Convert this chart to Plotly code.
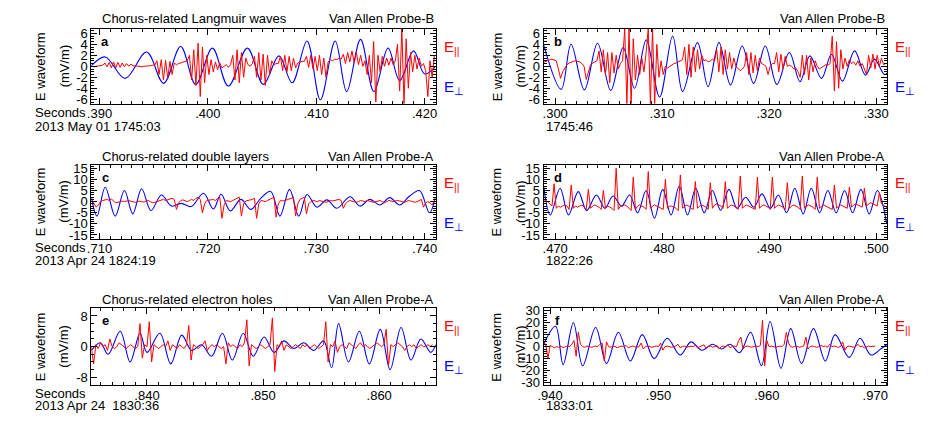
import plotly.graph_objects as go

# ---------------- DATA ----------------
PAR_DT = 0.0002  # E_par sample step (s)

# Panel a : chorus-related Langmuir waves (Probe-B, 2013-05-01 17:45:03)
a_perp_t = [.38925, .39053, .39236, .39435, .39592, .39749, .39888, .40042, .40189, .40365,
            .40512, .40656, .40778, .40915, .41038, .41175, .41281, .41409, .41532, .41663,
            .41770, .41898, .42000, .42103]
a_perp_v = [0.1, 1.7, -2.2, 2.6, -3.1, 3.6, -3.3, 3.3, -3.6, 3.3,
            -3.3, 1.9, -3.0, 4.6, -6.1, 4.6, -4.6, 4.9, -4.6, 3.3,
            -2.6, 2.8, -1.4, 0.0]
a_par_t0 = 0.3893
a_par_v = [0.0, -0.1, 0.0, 0.1, 0.1, 0.2,
           0.6, -0.1, 0.7, -0.3, 0.8, -0.3, 0.7, -0.2, 0.6, -0.1, 0.5, 0.0, 0.4, 0.1,
           0.1, 0.0, 0.0, -0.1, 0.0, 0.0, 0.1, 0.1, 0.2, 0.2,
           1.0, -1.5, 1.2, -2.5, 1.1, -2.2, 0.9, -1.5, 0.6,
           0.3, 0.5, 0.6, 0.8, 0.9, 1.0,
           2.0, -2.5, 3.0, -3.5, 4.2, -5.5, 3.5, -3.0, 2.0,
           -1.5, 1.2, -1.0, 0.8, -0.6, 0.6, -0.3,
           0.0, 0.3, -0.2, 0.3,
           2.0, -2.5, 3.0, -3.0, 2.5, -2.0, 1.5,
           0.3, 0.0, 0.5,
           1.8, -2.0, 2.5, -2.5, 2.2, -3.5, 2.0, -1.5, 1.0,
           0.3, 0.5, 0.5,
           1.8, -0.8, 2.0, -1.0, 1.8, -0.8, 1.5, -0.3,
           0.6, 0.8, 0.9, 0.9,
           1.8, -0.2, 2.0, -0.5, 1.8, -0.8, 2.0, -1.5, 1.5, -2.0,
           0.8, 1.2, 1.0, 1.3, 1.2, 1.5, 1.3,
           2.2, 0.5, 2.5, 0.8, 2.8, 0.6, 2.5, 0.3, 2.0, 0.0,
           1.0, -1.5, 2.0, -3.0, 4.5, -6.5, 2.0, -1.0,
           1.8, 0.0, 1.5, 0.2, 1.5, 0.3, 1.0,
           4.0, -4.5, 6.8, -6.8, 5.0, -4.0,
           2.5, -1.0, 2.0, -0.5, 1.5, 0.0, 0.5,
           -0.8, -5.5, 1.0, -2.0, 2.0]

# Panel b : Probe-B, 17:45:46
b_perp_t = [.29892, .30056, .30148, .30273, .30396, .30519, .30635, .30742, .30851, .30976,
            .31098, .31191, .31330, .31429, .31531, .31639, .31748, .31855, .31964, .32072,
            .32189, .32288, .32381, .32490, .32583, .32685, .32799, .32901, .32984, .33077,
            .33105]
b_perp_v = [3.9, -4.2, 4.0, -4.3, 4.2, -4.4, 3.4, -4.0, 4.8, -5.6,
            5.5, -4.6, 4.3, -3.7, 4.3, -3.4, 3.7, -3.1, 3.7, -3.3,
            2.5, -2.8, 1.9, -2.2, 2.2, -2.7, 2.8, -1.6, 1.3, -1.5,
            -1.2]
b_par_t0 = 0.2989
b_par_v = [0.7, 0.9, 1.1, 1.2, 1.3, 1.2, 1.0,
           -0.5, -2.2, -1.0,
           -0.2, 0.3, 0.6, 0.8, 0.9, 1.0, 0.9, 0.8, 0.5, 0.0,
           -2.4, -1.0,
           0.2, 0.6, 0.8, 1.0,
           2.8, -1.0, 3.0, -1.5, 2.5, -3.0, 2.5, -1.2, 2.0, -0.5,
           0.5, 1.0,
           6.8, -6.8, 6.8, -6.8, 5.0,
           -2.5, 2.0, -1.5, 1.5, -1.0, 2.5,
           6.8, -6.8, 6.8, -6.8, 4.0,
           -2.0, 1.0, -1.5, 0.0, -0.3, 0.0,
           0.2, 0.5, 0.6, 0.8, 1.0, 1.2,
           3.5, -1.5, 4.0, -2.0, 3.5, -1.0, 3.0, -0.5, 2.0,
           1.0, 1.2, 0.8, 1.0, 1.3, 1.0,
           3.0, -1.0, 3.5, -1.5, 3.0, -0.5, 2.5, -0.5, 1.5,
           0.0, -0.5, -0.8, -0.5, 0.0,
           2.5, -1.5, 2.5, -1.2, 2.0, -0.8, 1.5,
           0.5, 0.3, 0.0, -1.5, 0.0, 0.5, 0.5,
           2.5, -1.0, 2.2, -0.5, 1.8, 0.0,
           0.2, 0.0, -0.5, -0.3, -1.0, -2.0,
           2.0, -1.5, 2.0, -2.5, 1.5, -1.0, 1.0, 0.0,
           -0.5, -0.2, 0.0, 0.3, 0.2, 0.5,
           5.5, -4.5, 4.5, -4.0, 3.0,
           -0.5, 1.5, 0.0, 1.2, 0.5,
           0.8, 0.2, 1.0, 0.0, 0.5, -0.5, -1.5,
           2.0, -0.3, 2.2, -0.5, 2.0, 0.0, 1.5, 0.3, 0.5]

# Panel c : chorus-related double layers (Probe-A, 2013-04-24 18:24:19)
c_perp_t = [.70925, .70977, .71053, .71145, .71230, .71307, .71389, .71475, .71572, .71664,
            .71755, .71847, .71960, .72051, .72122, .72207, .72305, .72397, .72488, .72580,
            .72665, .72754, .72839, .72915, .73006, .73098, .73190, .73312, .73404, .73495,
            .73587, .73679, .73770, .73862, .73953, .74045, .74100]
c_perp_v = [2.0, -6.5, 6.5, -6.5, 5.0, -5.5, 5.8, -4.0, 3.0, -2.0,
            -0.8, -2.2, 3.8, -3.3, 3.3, -4.2, 1.0, -3.5, 1.5, 4.6,
            -6.5, 5.5, -6.5, 3.2, -2.5, 0.8, -3.0, 2.2, -2.0, 1.0,
            -1.5, 1.8, -1.5, 2.5, 5.0, -5.0, 2.0]
c_par_t0 = 0.7093
c_par_v = [0.5, -1.0, -2.5, -1.5, 0.0, 0.5, 0.8, 1.0, 0.5, 1.2,
           0.3, -0.5, -0.3, 0.0, 0.2, 0.0, 0.3, 0.5, 0.2, 0.0,
           -0.3, 0.0, 0.2, 0.0, -0.2, 0.3, 0.5, 0.0, -0.5, -0.3,
           0.0, 0.5, 0.8, 1.0, 0.5, 0.8, 1.2, 1.5, 1.0, -3.5,
           -0.5, 0.5, 0.8, 0.3, 0.0, 0.5, 1.0, 0.5, 1.5, 2.0,
           1.0, -5.0, -1.0, 0.5, 0.5, 0.8, 1.0, 0.5, 1.5, 2.0,
           -7.5, -1.5, 0.5, 0.3, 0.0, 0.5, 1.0, 1.5, 2.0, -6.5,
           -1.0, 0.3, 0.5, 0.8, 1.0, 1.5, -7.5, -1.0, 0.5, 0.3,
           0.0, 0.5, 1.0, 1.5, 2.0, -7.0, -1.0, 0.5, 0.3, 0.5,
           0.8, 1.0, 1.5, 2.0, -6.5, -1.0, 1.0, 1.5, 2.0, -5.5,
           -1.0, 0.0, 0.5, 0.3, 0.0, 0.5, 0.3, 0.0, -0.3, 0.0,
           0.5, 0.3, 0.5, 0.8, 1.0, 0.5, -3.0, -1.0, 0.0, 0.5,
           0.3, 0.0, -0.3, 0.0, 0.5, 0.3, 0.0, 0.5, 0.3, 0.0,
           -0.3, 0.0, 0.3, 0.5, 0.0, -0.5, 0.0, 0.5, 0.3, 0.0,
           0.3, 0.5, 0.3, 0.0, -0.3, 0.0, 0.5, 0.3, 0.0, -0.3,
           0.0, 0.5, 1.0, -2.5, -0.5, 0.0, -0.5, -1.5, 0.5]

# Panel d : Probe-A, 18:22:26
d_perp_t = [.46892, .46954, .47046, .47124, .47216, .47294, .47385, .47465, .47541, .47620,
            .47696, .47770, .47850, .47928, .48005, .48083, .48160, .48237, .48314, .48393,
            .48469, .48547, .48624, .48700, .48780, .48857, .48933, .49012, .49086, .49163,
            .49240, .49318, .49394, .49472, .49549, .49627, .49705, .49780, .49858, .49935,
            .50012, .50100]
d_perp_v = [7.0, -6.0, 6.0, -6.0, 4.5, -4.0, 3.0, -3.0, 2.5, -2.0,
            3.0, -5.0, 5.0, -7.5, 5.5, -6.0, 7.0, -6.0, 6.0, -5.0,
            5.0, -4.0, 5.5, -3.0, 2.0, -2.5, 3.5, -3.0, 3.0, -5.0,
            6.0, -5.5, 6.0, -5.0, 5.0, -5.0, 5.0, -5.0, 5.5, -5.5,
            5.0, -10.0]
d_par_t0 = 0.4689
d_par_v = [1.0, 0.5, 0.0, -1.0, -2.0, 8.0, -3.0, -2.0, -2.5, -2.0,
           -1.5, -2.0, -3.5, 7.5, -3.0, -2.0, -2.5, -2.0, -1.5, -2.5,
           -3.5, 5.5, -3.0, -2.0, -1.5, -2.0, -2.5, -3.5, 5.0, -3.0,
           -2.0, -2.5, -3.0, -4.0, 15.0, -3.5, -2.0, -2.0, -1.5, -2.0,
           -3.0, -4.0, 11.0, -3.5, -2.0, -1.5, -2.0, -2.5, -3.5, 13.5,
           -3.0, -2.0, -1.5, -2.0, -2.5, -3.0, -3.5, 10.0, -3.0, -2.0,
           -2.0, -2.5, -3.0, -4.0, 12.0, -3.0, -2.0, -1.5, -2.0, -3.0,
           -3.5, 9.0, -3.0, -2.0, -1.5, -2.0, -2.5, -3.5, 8.5, -3.0,
           -1.5, -1.0, -1.5, -2.0, -3.0, 9.0, -3.0, -2.0, -1.5, -2.0,
           -2.5, -3.5, 11.5, -3.0, -2.0, -1.5, -2.0, -2.5, -3.0, -3.5,
           11.0, -3.0, -2.0, -1.5, -2.0, -2.5, -3.5, 11.0, -3.0, -2.0,
           -1.5, -2.0, -2.5, -3.5, 8.5, -3.0, -2.0, -1.5, -2.0, -2.5,
           -3.5, 11.5, -3.0, -2.0, -1.5, -2.0, -2.5, -3.5, 11.0, -3.0,
           -2.0, -1.5, -2.0, -2.5, -3.0, -3.5, 7.5, -3.0, -2.0, -1.5,
           -2.0, -2.5, -3.0, 6.5, -2.5, -1.5, -1.0, -1.5, -2.0, -2.5,
           6.0, -2.0, -1.0, -0.5, -1.0, -1.5, -2.0, 4.0, -1.0, -1.5,
           -2.5, -3.0]

# Panel e : chorus-related electron holes (Probe-A, 2013-04-24 18:30:36)
e_perp_t = [.83521, .83598, .83666, .83769, .83855, .83940, .84000, .84111, .84205, .84299,
            .84385, .84470, .84556, .84650, .84735, .84829, .84915, .85009, .85094, .85179,
            .85265, .85350, .85436, .85521, .85590, .85650, .85735, .85829, .85915, .86009,
            .86094, .86188, .86274, .86359, .86444, .86487]
e_perp_v = [-1.0, 1.0, -2.0, 4.0, -4.0, 3.5, -1.5, 3.5, -4.5, 3.0,
            -1.0, 0.5, -2.5, 3.5, -3.5, 3.5, -2.5, 2.5, -1.5, 1.5,
            -0.5, 1.0, -1.0, 1.5, -5.5, 6.0, -4.0, 4.0, -4.5, 4.5,
            -6.0, 5.0, -3.5, 2.0, -1.5, 0.5]
e_par_t0 = 0.8352
e_par_v = [0.0, -4.5, 0.5, -0.5, 1.0, 0.0, 0.5, -1.0, 2.0, 0.0,
           -0.5, 0.0, 1.0, 0.5, 0.0, -0.5, 0.0, 0.5, 0.0, -0.5,
           0.0, 6.0, -3.0, 0.5, 0.0, 6.5, -4.0, 0.5, 0.0, -0.5,
           0.0, 0.5, 0.0, 1.5, -1.0, 0.5, 0.0, -0.5, 0.5, 0.0,
           -0.5, 0.5, 5.5, -3.5, 0.5, 0.0, -0.5, 0.0, 0.5, 1.5,
           -1.0, 0.0, 0.5, 0.0, 0.5, 0.0, -0.5, 0.0, -4.5, 1.0,
           0.0, 0.5, 0.0, -0.5, 0.5, 0.0, 1.0, 7.0, -5.0, 0.5,
           0.0, -0.5, 0.0, 0.5, 0.0, -0.5, 0.0, 0.5, 7.5, -6.5,
           0.5, 0.0, 1.5, -1.0, 0.5, 0.0, -0.5, 0.0, 0.5, 0.0,
           -0.5, 0.5, 0.0, 0.5, -0.5, 0.0, 0.5, 0.0, -0.5, 0.0,
           0.5, 6.5, -4.0, 0.5, 0.0, 1.5, -1.5, 0.0, 0.5, 0.0,
           -0.5, 1.0, 0.5, 0.0, -0.5, 0.5, 1.0, 0.0, 0.5, 0.0,
           -0.5, 0.0, 0.5, 1.0, 0.5, 0.0, 0.5, 4.5, -5.0, 0.5,
           0.0, 0.5, 1.0, 0.5, 0.0, -1.0, 0.0, 0.5, 0.0, 0.5,
           -0.5, 0.0, 0.5, 0.0, 0.0, 0.5, 0.0, 0.5]

# Panel f : Probe-A, 18:33:01
f_perp_t = [.93940, .94050, .94120, .94215, .94300, .94420, .94520, .94630, .94740, .94850,
            .94960, .95080, .95200, .95300, .95400, .95500, .95580, .95660, .95750, .95850,
            .95950, .96030, .96130, .96220, .96320, .96430, .96540, .96630, .96760, .96860,
            .96960, .97050, .97112]
f_perp_v = [2.0, 17.0, -15.0, 20.0, -16.0, 16.0, -14.0, 12.0, -12.0, 10.0,
            -10.0, 7.0, -7.0, 4.0, -3.0, 2.0, -2.0, 2.0, -5.0, 12.0,
            -16.0, 21.0, -18.0, 15.0, -14.0, 15.0, -12.0, 10.0, -9.0, 7.0,
            -7.0, -2.0, 2.0]
f_par_t0 = 0.9394
f_par_v = [3.0, 2.0, -10.0, 1.0, 0.0, -1.0, 0.0, -0.5, 0.5, -1.0,
           0.0, 0.5, 0.0, 2.0, 5.0, -8.0, 12.0, 2.0, 0.0, -0.5,
           0.5, 0.0, -0.5, 0.0, 0.5, 0.0, 2.0, 3.0, -12.0, 4.0,
           0.0, -0.5, 0.5, 0.0, -1.0, 0.0, 0.5, 0.0, 1.0, -1.0,
           0.0, 0.5, 0.0, -0.5, 0.0, 3.0, -2.0, 0.0, 0.5, 0.0,
           -0.5, 0.0, 0.5, 0.0, 3.0, -3.0, 0.0, 0.5, 0.0, -0.5,
           0.0, 0.5, 2.0, -1.0, 0.0, 0.5, -0.5, 0.0, 0.5, 0.0,
           1.0, -1.0, 0.0, 0.5, 1.5, -1.5, 0.0, 0.5, -0.5, 0.0,
           1.0, -2.0, 0.0, 0.5, 0.0, 1.5, -1.0, 0.0, 0.5, 0.0,
           5.0, 8.0, -2.0, 0.0, 0.5, 0.0, -0.5, 0.0, 0.5, 0.0,
           1.0, 22.0, -16.0, 5.0, 0.0, 0.5, 0.0, -0.5, 0.0, 0.5,
           0.0, 2.0, 12.0, 3.0, 0.0, -0.5, 0.5, 0.0, -0.5, 0.0,
           0.5, 8.0, -2.0, 0.0, 0.5, 0.0, -0.5, 0.0, 1.0, 0.0,
           0.5, -0.5, 2.0, 0.0, 0.5, 0.0, -0.5, 0.0, 4.0, -3.0,
           0.0, 0.5, 0.0, -0.5, 0.0, 2.0, 0.0, 0.5, -1.0, 0.0,
           0.5, 0.0, 0.0, 0.5]

panels = [
    ("a", a_perp_t, a_perp_v, a_par_t0, a_par_v, [.38925, .42103], [.39, .40, .41, .42], [-6.8, 6.8], [-6, -4, -2, 0, 2, 4, 6], 0.5),
    ("b", b_perp_t, b_perp_v, b_par_t0, b_par_v, [.29892, .33105], [.30, .31, .32, .33], [-6.8, 6.8], [-6, -4, -2, 0, 2, 4, 6], 0.5),
    ("c", c_perp_t, c_perp_v, c_par_t0, c_par_v, [.70925, .74103], [.71, .72, .73, .74], [-16.7, 16.7], [-15, -10, -5, 0, 5, 10, 15], 1),
    ("d", d_perp_t, d_perp_v, d_par_t0, d_par_v, [.46892, .50105], [.47, .48, .49, .50], [-16.7, 16.7], [-15, -10, -5, 0, 5, 10, 15], 1),
    ("e", e_perp_t, e_perp_v, e_par_t0, e_par_v, [.83521, .86487], [.84, .85, .86], [-10, 10], [-8, 0, 8], 2),
    ("f", f_perp_t, f_perp_v, f_par_t0, f_par_v, [.93940, .97112], [.94, .95, .96, .97], [-32, 32], [-30, -20, -10, 0, 10, 20, 30], 2),
]

# ---------------- LAYOUT ----------------
W, H = 934, 431
COLS = [(86, 433), (541.7, 888)]
ROWS = [(24.5, 101), (163.3, 239.3), (310.5, 389)]
FONT = "Liberation Sans, Arial, Helvetica, sans-serif"


def px(x):
    return x / W


def py(y):
    return 1 - y / H


fig = go.Figure()
layout = dict(width=W, height=H, margin=dict(l=0, r=0, t=0, b=0),
              paper_bgcolor="white", plot_bgcolor="white", showlegend=False,
              font=dict(family=FONT, size=13, color="black"))

for k, (key, pt, pv, t0, rv, xr, xt, yr, yt, ymin) in enumerate(panels):
    r, c = divmod(k, 2)
    n = "" if k == 0 else str(k + 1)
    xa, ya = "x" + n, "y" + n
    rt = [t0 + PAR_DT * i for i in range(len(rv))]
    fig.add_trace(go.Scatter(x=pt, y=pv, mode="lines", line=dict(color="#0000ff", width=1.1, shape="spline", smoothing=1.0),
                             xaxis=xa, yaxis=ya, hoverinfo="skip"))
    fig.add_trace(go.Scatter(x=rt, y=rv, mode="lines", line=dict(color="#ff0000", width=1.0),
                             xaxis=xa, yaxis=ya, hoverinfo="skip"))
    x0, x1 = COLS[c]
    y0, y1 = ROWS[r]
    layout["xaxis" + n] = dict(domain=[px(x0), px(x1)], anchor=ya, range=xr,
                               tickmode="array", tickvals=xt, ticktext=["." + f"{v:.3f}".split(".")[1] for v in xt],
                               ticks="inside", ticklen=6, tickcolor="black", tickwidth=1,
                               showline=True, linecolor="black", linewidth=1, mirror="ticks",
                               showgrid=False, zeroline=False, ticklabelstandoff=-2,
                               minor=dict(tickmode="linear", tick0=xt[0], dtick=0.001, ticks="inside", ticklen=3, tickcolor="black", showgrid=False),
                               tickfont=dict(family=FONT, size=13))
    layout["yaxis" + n] = dict(domain=[py(y1), py(y0)], anchor=xa, range=yr,
                               tickmode="array", tickvals=yt, ticktext=[str(v) for v in yt],
                               ticks="inside", ticklen=6, tickcolor="black", tickwidth=1,
                               showline=True, linecolor="black", linewidth=1, mirror="ticks",
                               showgrid=False, zeroline=False,
                               minor=dict(tickmode="linear", tick0=0, dtick=ymin, ticks="inside", ticklen=3, tickcolor="black", showgrid=False),
                               tickfont=dict(family=FONT, size=13))

fig.update_layout(**layout)

ann = []


def text(x, y, s, xanchor="left", size=13, color="black", angle=0, bold=False):
    if bold:
        s = "<b>" + s + "</b>"
    ann.append(dict(x=px(x), y=py(y), xref="paper", yref="paper", text=s, showarrow=False,
                    xanchor=xanchor, yanchor="middle", textangle=angle,
                    font=dict(family=FONT, size=size, color=color)))


titles = ["Chorus-related Langmuir waves", None, "Chorus-related double layers", None,
          "Chorus-related electron holes", None]
probes = ["Van Allen Probe-B", "Van Allen Probe-B", "Van Allen Probe-A", "Van Allen Probe-A",
          "Van Allen Probe-A", "Van Allen Probe-A"]
dates = ["2013 May 01 1745:03", "1745:46", "2013 Apr 24 1824:19", "1822:26",
         "2013 Apr 24  1830:36", "1833:01"]
title_y = [14, 155, 302]
tick_y = [110.5, 248.5, 397.5]
date_y = [124, 262, 410]

for k in range(6):
    r, c = divmod(k, 2)
    x0, x1 = COLS[c]
    y0, y1 = ROWS[r]
    if titles[k]:
        text(x0 + 9, title_y[r], titles[k])
    text(x1, title_y[r], probes[k], xanchor="right")
    text(x0 + 14, y0 + 13, "abcdef"[k], xanchor="center", bold=True)
    ylab = (y0 + y1) / 2
    text(x0 - 51 if c == 0 else x0 - 47, ylab, "E waveform", xanchor="center", angle=-90)
    text(x0 - 27.5 if c == 0 else x0 - 23.5, ylab, "(mV/m)", xanchor="center", angle=-90)
    text(x1 + 6, y0 + 19, "E<sub>||</sub>", color="#ff0000", size=15)
    text(x1 + 6, y0 + 60, "E<sub>⊥</sub>", color="#0000ff", size=15)
    text(27 if c == 0 else x0, date_y[r], dates[k])
    if c == 0:
        text(27, tick_y[r], "Seconds")

fig.update_layout(annotations=ann)
fig.write_html("out.html", config={"displayModeBar": False},
               post_script="document.body.style.margin='0px';document.body.style.overflow='hidden';")
